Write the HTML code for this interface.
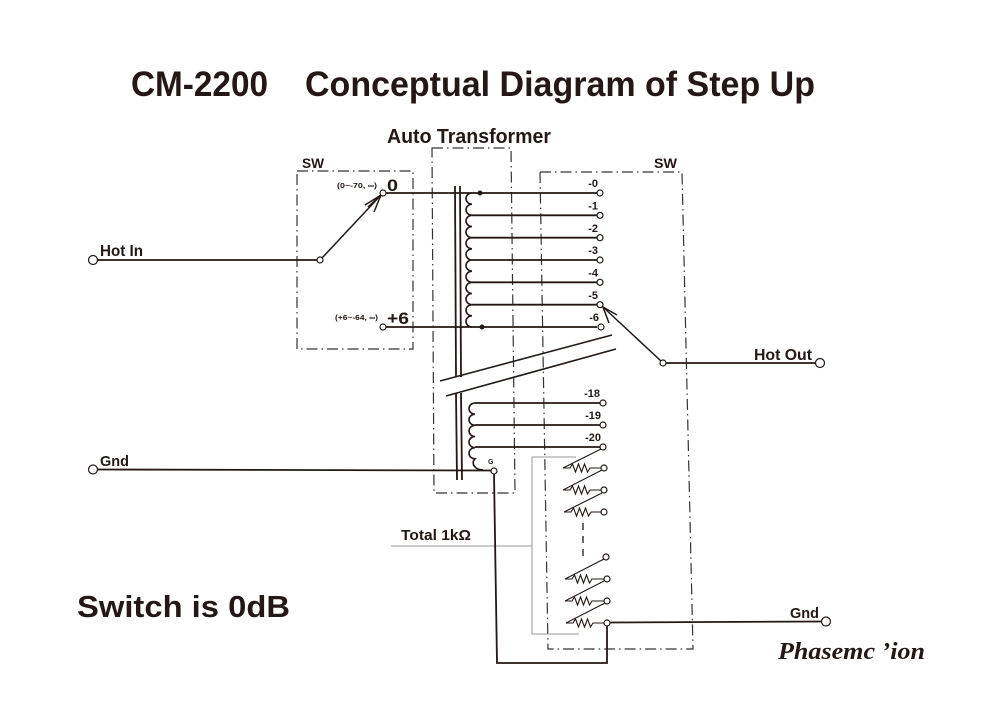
<!DOCTYPE html>
<html>
<head>
<meta charset="utf-8">
<style>
html,body{margin:0;padding:0;background:#fff;}
svg{display:block;}
text{font-family:"Liberation Sans",sans-serif;font-weight:bold;fill:#231815;}
</style>
</head>
<body>
<svg width="1000" height="722" viewBox="0 0 1000 722" xmlns="http://www.w3.org/2000/svg">
<rect x="0" y="0" width="1000" height="722" fill="#fff"/>

<!-- Title -->
<text x="131" y="96" font-size="35" textLength="137" lengthAdjust="spacingAndGlyphs">CM-2200</text>
<text x="305" y="96" font-size="35" textLength="510" lengthAdjust="spacingAndGlyphs">Conceptual Diagram of Step Up</text>

<text x="387" y="143" font-size="20" textLength="164" lengthAdjust="spacingAndGlyphs">Auto Transformer</text>

<!-- dash-dot boxes -->
<g fill="none" stroke="#333" stroke-width="1.2" stroke-dasharray="11 4 1.5 4">
  <polygon points="297,171 413,171 413,349 297,349"/>
  <polygon points="432,148 511,148 515,493 434,493"/>
  <polygon points="540,172 682,172 693,649 548,649"/>
</g>
<text x="302" y="168" font-size="14" textLength="22" lengthAdjust="spacingAndGlyphs">SW</text>
<text x="654" y="168" font-size="14" textLength="23" lengthAdjust="spacingAndGlyphs">SW</text>

<!-- thin gray bracket -->
<g stroke="#9a9a9a" stroke-width="1" fill="none">
  <polyline points="576,457 532,457 532,634 579,634"/>
  <line x1="391" y1="546" x2="532" y2="546"/>
</g>
<text x="401" y="540" font-size="15" textLength="70" lengthAdjust="spacingAndGlyphs">Total 1kΩ</text>

<!-- core -->
<g stroke="#231815" stroke-width="1.8">
  <line x1="455" y1="186" x2="456" y2="377"/>
  <line x1="460" y1="186" x2="461" y2="377"/>
  <line x1="456" y1="393" x2="457" y2="480"/>
  <line x1="461" y1="393" x2="462" y2="480"/>
</g>
<!-- break lines -->
<g stroke="#231815" stroke-width="1.6">
  <line x1="440" y1="381" x2="612" y2="335"/>
  <line x1="446" y1="396" x2="616" y2="349"/>
</g>

<!-- upper coil -->
<path d="M472,193 a6,5.583 0 0 0 0,11.167 a6,5.583 0 0 0 0,11.167 a6,5.583 0 0 0 0,11.167 a6,5.583 0 0 0 0,11.167 a6,5.583 0 0 0 0,11.167 a6,5.583 0 0 0 0,11.167 a6,5.583 0 0 0 0,11.167 a6,5.583 0 0 0 0,11.167 a6,5.583 0 0 0 0,11.167 a6,5.583 0 0 0 0,11.167 a6,5.583 0 0 0 0,11.167 a6,5.583 0 0 0 0,11.167" fill="none" stroke="#231815" stroke-width="1.6"/>
<!-- lower coil -->
<path d="M475,403 a6,5.583 0 0 0 0,11.167 a6,5.583 0 0 0 0,11.167 a6,5.583 0 0 0 0,11.167 a6,5.583 0 0 0 0,11.167 a6,5.583 0 0 0 0,11.167 a6,5.583 0 0 0 0,8 q2,3 8,3" fill="none" stroke="#231815" stroke-width="1.6"/>

<!-- wires -->
<g stroke="#231815" stroke-width="1.8" fill="none">
  <line x1="386" y1="193" x2="597" y2="193"/>
  <line x1="472" y1="215.3" x2="597" y2="215.3"/>
  <line x1="472" y1="237.7" x2="597" y2="237.7"/>
  <line x1="472" y1="260" x2="597" y2="260"/>
  <line x1="472" y1="282.3" x2="597" y2="282.3"/>
  <line x1="472" y1="304.7" x2="597" y2="304.7"/>
  <line x1="386" y1="327" x2="597" y2="327"/>
  <line x1="475" y1="403" x2="600" y2="403"/>
  <line x1="475" y1="425" x2="600" y2="425"/>
  <line x1="475" y1="447" x2="600" y2="447"/>
  <!-- Hot in -->
  <line x1="97.5" y1="260" x2="317" y2="260"/>
  <!-- Gnd in -->
  <line x1="97.5" y1="469.5" x2="491" y2="470.5"/>
  <!-- G down -->
  <polyline points="494,474 497,663 607,663 607,626"/>
  <!-- Gnd out -->
  <line x1="610" y1="622.5" x2="821.5" y2="621.5"/>
  <!-- Hot out -->
  <line x1="666" y1="363" x2="815.5" y2="363"/>
</g>

<!-- switch arms -->
<g stroke="#231815" stroke-width="1.5" fill="none">
  <line x1="322" y1="258" x2="381" y2="195"/>
  <polyline points="365,205 381,195 374,212"/>
  <line x1="368" y1="207" x2="381" y2="195"/>
  <line x1="661" y1="361" x2="603" y2="307"/>
  <polyline points="617,315 603,307 609,323"/>
</g>

<!-- dots -->
<circle cx="480" cy="193" r="2.5" fill="#231815"/>
<circle cx="482" cy="327" r="2.5" fill="#231815"/>

<!-- resistor ladder -->
<g stroke="#231815" stroke-width="1.1" fill="none">
  <!-- upper group -->
  <line x1="563" y1="468" x2="601" y2="449"/>
  <polyline points="563,468 570,468 572.5,464 575.5,472 578.5,464 581.5,472 584.5,464 587.5,472 590,468 601,468"/>
  <line x1="563" y1="490" x2="602" y2="470"/>
  <polyline points="563,490 570,490 572.5,486 575.5,494 578.5,486 581.5,494 584.5,486 587.5,494 590,490 601,490"/>
  <line x1="564" y1="512" x2="602" y2="493"/>
  <polyline points="564,512 571,512 573.5,508 576.5,516 579.5,508 582.5,516 585.5,508 588.5,516 591,512 601,512"/>
  <!-- lower group -->
  <line x1="565" y1="579" x2="604" y2="559"/>
  <polyline points="565,579 572,579 574.5,575 577.5,583 580.5,575 583.5,583 586.5,575 589.5,583 592,579 604,579"/>
  <line x1="565" y1="601" x2="604" y2="581"/>
  <polyline points="565,601 572,601 574.5,597 577.5,605 580.5,597 583.5,605 586.5,597 589.5,605 592,601 604,601"/>
  <line x1="566" y1="623" x2="605" y2="603"/>
  <polyline points="566,623 573,623 575.5,619 578.5,627 581.5,619 584.5,627 587.5,619 590.5,627 593,623 604,623"/>
</g>
<line x1="583" y1="523" x2="583" y2="562" stroke="#231815" stroke-width="1.3" stroke-dasharray="7 6"/>

<!-- terminals -->
<g fill="#fff" stroke="#231815" stroke-width="1.2">
  <circle cx="383" cy="193" r="3"/>
  <circle cx="383" cy="327" r="3"/>
  <circle cx="320" cy="260" r="3"/>
  <circle cx="600" cy="193" r="3"/>
  <circle cx="600" cy="215.3" r="3"/>
  <circle cx="600" cy="237.7" r="3"/>
  <circle cx="600" cy="260" r="3"/>
  <circle cx="600" cy="282.3" r="3"/>
  <circle cx="600" cy="304.7" r="3"/>
  <circle cx="601" cy="327" r="3"/>
  <circle cx="603" cy="403" r="3"/>
  <circle cx="603" cy="425" r="3"/>
  <circle cx="603" cy="447" r="3"/>
  <circle cx="604" cy="468" r="3"/>
  <circle cx="604" cy="490" r="3"/>
  <circle cx="604" cy="512" r="3"/>
  <circle cx="606" cy="557" r="3"/>
  <circle cx="607" cy="579" r="3"/>
  <circle cx="607" cy="601" r="3"/>
  <circle cx="607" cy="623" r="3"/>
  <circle cx="494" cy="471" r="3"/>
  <circle cx="663" cy="363" r="3"/>
  <circle cx="93" cy="260" r="4.5"/>
  <circle cx="93" cy="469.5" r="4.5"/>
  <circle cx="820" cy="363" r="4.5"/>
  <circle cx="826" cy="621.5" r="4.5"/>
</g>

<!-- tap labels -->
<g font-size="11" text-anchor="end">
  <text x="598" y="187">-0</text>
  <text x="598" y="209.5">-1</text>
  <text x="598" y="232">-2</text>
  <text x="598" y="254">-3</text>
  <text x="598" y="276.5">-4</text>
  <text x="598" y="299">-5</text>
  <text x="599" y="321">-6</text>
  <text x="600" y="397">-18</text>
  <text x="601" y="419">-19</text>
  <text x="601" y="441">-20</text>
</g>
<text x="488" y="464" font-size="7">G</text>

<!-- left switch labels -->
<text x="337" y="188" font-size="7" font-weight="normal" textLength="40" lengthAdjust="spacingAndGlyphs">(0~-70, ∞)</text>
<text x="387" y="191" font-size="17" textLength="11" lengthAdjust="spacingAndGlyphs">0</text>
<text x="335" y="320" font-size="7" font-weight="normal" textLength="43" lengthAdjust="spacingAndGlyphs">(+6~-64, ∞)</text>
<text x="387" y="324" font-size="17" textLength="22" lengthAdjust="spacingAndGlyphs">+6</text>

<!-- terminal labels -->
<text x="100" y="256" font-size="16" textLength="43" lengthAdjust="spacingAndGlyphs">Hot In</text>
<text x="754" y="360" font-size="16" textLength="58" lengthAdjust="spacingAndGlyphs">Hot Out</text>
<text x="100" y="466" font-size="15" textLength="29" lengthAdjust="spacingAndGlyphs">Gnd</text>
<text x="790" y="618" font-size="15" textLength="29" lengthAdjust="spacingAndGlyphs">Gnd</text>

<text x="77" y="617" font-size="31" textLength="213" lengthAdjust="spacingAndGlyphs">Switch is 0dB</text>

<!-- logo -->
<text x="778" y="659" font-size="24" font-style="italic" style="font-family:'Liberation Serif',serif;font-weight:bold;" textLength="147" lengthAdjust="spacingAndGlyphs">Phasemc ’ion</text>
</svg>
</body>
</html>
